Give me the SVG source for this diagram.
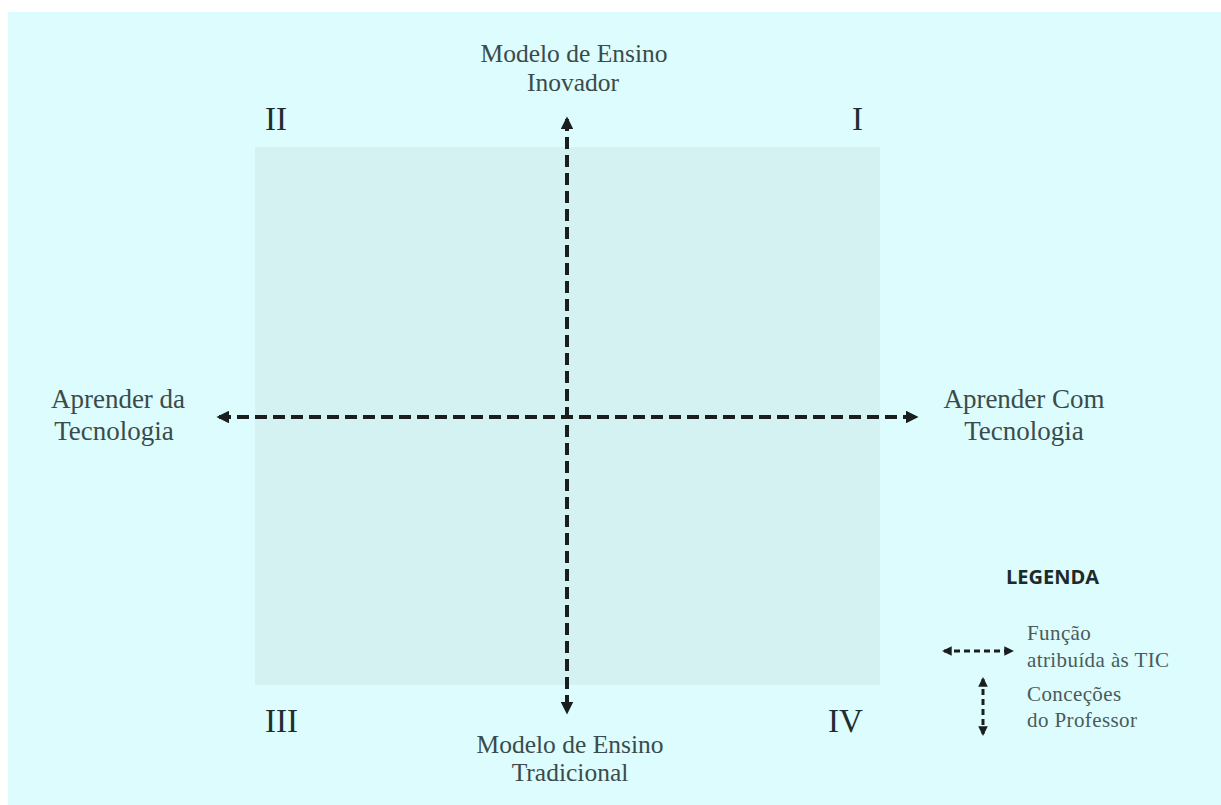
<svg xmlns="http://www.w3.org/2000/svg" width="1221" height="805" viewBox="0 0 1221 805">
<style>
.lbl{font-family:"Liberation Serif","DejaVu Serif",serif;font-size:25.5px;fill:#3b4b4b;text-anchor:middle}
.side{font-size:27px}
.rom{font-family:"Liberation Serif","DejaVu Serif",serif;font-size:33px;fill:#1e2e2e}
.leg{font-family:"Liberation Serif","DejaVu Serif",serif;font-size:21px;letter-spacing:0.4px;fill:#4a5a5a}
.legt{font-family:"Open Sans","Liberation Sans",sans-serif;font-size:20px;font-weight:bold;fill:#1e2a2a}
.ax{stroke:#1a1e1e;stroke-width:4;stroke-dasharray:12 6;fill:none}
.axs{stroke:#1a1e1e;stroke-width:3;stroke-dasharray:6 4;fill:none}
</style>
<defs>
<marker id="ah" viewBox="0 0 10 10" refX="8" refY="5" markerWidth="3.2" markerHeight="3.2" orient="auto-start-reverse" markerUnits="strokeWidth">
<path d="M0,0 L10,5 L0,10 z" fill="#1a1e1e"/>
</marker>
</defs>
<rect x="0" y="0" width="1221" height="805" fill="#ffffff"/>
<rect x="8" y="12" width="1213" height="793" fill="#dcfcfd"/>
<g id="quadrant"><rect x="255" y="147" width="625" height="538" fill="#d5f2f2"/></g>
<g id="connectors">
<line class="ax" x1="219" y1="417" x2="916" y2="417" marker-start="url(#ah)" marker-end="url(#ah)"/>
<line class="ax" x1="567" y1="119" x2="567" y2="712" marker-start="url(#ah)" marker-end="url(#ah)"/>
</g>
<g id="top-label"><text class="lbl" x="574" y="62">Modelo de Ensino</text><text class="lbl" x="573" y="91">Inovador</text></g>
<g id="bottom-label"><text class="lbl" x="570" y="753">Modelo de Ensino</text><text class="lbl" x="570" y="781">Tradicional</text></g>
<g id="left-label"><text class="lbl side" x="118" y="408">Aprender da</text><text class="lbl side" x="114" y="440">Tecnologia</text></g>
<g id="right-label"><text class="lbl side" x="1024" y="408">Aprender Com</text><text class="lbl side" x="1024" y="440">Tecnologia</text></g>
<g id="quad-II"><text class="rom" x="265" y="130">II</text></g>
<g id="quad-I"><text class="rom" x="852" y="130">I</text></g>
<g id="quad-III"><text class="rom" x="265" y="732">III</text></g>
<g id="quad-IV"><text class="rom" x="828" y="732">IV</text></g>
<g id="legend">
<text class="legt" x="1006" y="584">LEGENDA</text>
<line class="axs" x1="944" y1="651" x2="1012" y2="651" marker-start="url(#ah)" marker-end="url(#ah)"/>
<line class="axs" x1="983" y1="679" x2="983" y2="734" marker-start="url(#ah)" marker-end="url(#ah)"/>
<text class="leg" x="1027" y="640">Função</text>
<text class="leg" x="1027" y="667">atribuída às TIC</text>
<text class="leg" x="1027" y="701">Conceções</text>
<text class="leg" x="1027" y="727">do Professor</text>
</g>
</svg>
